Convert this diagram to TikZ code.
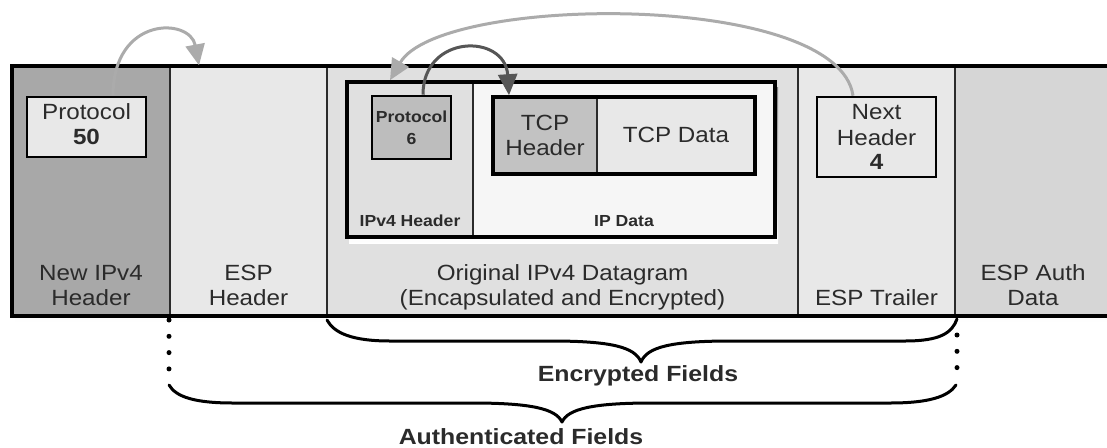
\documentclass[tikz,border=0pt]{standalone}
\usepackage{fontspec}
\setmainfont{Liberation Sans}[FakeStretch=1.10]
\newfontfamily\widefont{Liberation Sans}[FakeStretch=1.13]
\usetikzlibrary{arrows.meta}
\definecolor{ink}{HTML}{2B2B2B}
\definecolor{hdrdark}{HTML}{A8A8A8}
\definecolor{fieldlight}{HTML}{E8E8E8}
\definecolor{fieldmid}{HTML}{E0E0E0}
\definecolor{authgray}{HTML}{D6D6D6}
\definecolor{boxgray}{HTML}{BDBDBD}
\definecolor{tcpgray}{HTML}{C2C2C2}
\definecolor{paper}{HTML}{F6F6F6}
\definecolor{shade}{HTML}{C9C9C9}
\definecolor{lightptr}{HTML}{ABABAB}
\definecolor{darkptr}{HTML}{565656}
\begin{document}
\begin{tikzpicture}[x=1pt,y=-1pt,
  field/.style={rectangle, inner sep=0pt, draw=ink, line width=1.3pt},
  frame/.style={rectangle, inner sep=0pt, draw=black, line width=3.2pt},
  valbox/.style={rectangle, inner sep=0pt, draw=black, line width=2.6pt},
  lbl/.style={anchor=base, inner sep=0pt, text=ink, font=\fontsize{22}{25}\selectfont},
  lblb/.style={lbl, font=\fontsize{22}{25}\selectfont\bfseries},
  small/.style={anchor=base, inner sep=0pt, text=ink, font=\fontsize{16}{19}\selectfont\bfseries},
  big/.style={anchor=base, inner sep=0pt, text=ink, font=\widefont\fontsize{22}{25}\selectfont\bfseries},
  pointer/.style={line width=3pt, -{Triangle[length=21pt,width=19pt]}},
  bracepath/.style={line width=3pt, line cap=round, line join=round},
  dots/.style={line width=5pt, line cap=round, dash pattern=on 0pt off 16.3pt},
]
\useasboundingbox (0,0) rectangle (1107,447);

% drop shadow of the packet bar
\fill[shade] (15,71) rectangle (1115,322);

% the five fields of the ESP tunnel-mode packet
\node[field, fill=hdrdark,    minimum width=158pt, minimum height=250pt] (newip) at (91,191) {};
\node[field, fill=fieldlight, minimum width=157pt, minimum height=250pt] (esph)  at (248.5,191) {};
\node[field, fill=fieldmid,   minimum width=471pt, minimum height=250pt] (orig)  at (562.5,191) {};
\node[field, fill=fieldlight, minimum width=157pt, minimum height=250pt] (trail) at (876.5,191) {};
\node[field, fill=authgray,   minimum width=157pt, minimum height=250pt] (auth)  at (1033.5,191) {};
\node[frame, minimum width=1100pt, minimum height=250pt] (bar) at (562,191) {};

% encapsulated IPv4 datagram
\fill[shade] (349,87) rectangle (778,243);
\node[field, fill=fieldmid, minimum width=126pt, minimum height=155pt] (iphdr)  at (410,159.5) {};
\node[field, fill=paper,    minimum width=302pt, minimum height=155pt] (ipdata) at (624,159.5) {};
\node[frame, line width=3.6pt, minimum width=428pt, minimum height=155pt] (dgram) at (561,159.5) {};

% TCP segment inside the IP data
\node[field, fill=tcpgray,   minimum width=104pt, minimum height=77pt] (tcphdr)  at (545,135.5) {};
\node[field, fill=fieldlight,minimum width=158pt, minimum height=77pt] (tcpdata) at (676,135.5) {};
\node[frame, line width=3.6pt, minimum width=262pt, minimum height=77pt] (tcp) at (624,135.5) {};

% protocol / next-header value boxes
\node[valbox, fill=fieldlight, minimum width=119pt, minimum height=60pt] (p50) at (86.5,127) {};
\node[valbox, fill=boxgray,    minimum width=79pt,  minimum height=63pt] (p6)  at (411.5,127.5) {};
\node[valbox, fill=fieldlight, minimum width=119pt, minimum height=80pt] (nh)  at (876.5,137) {};

% texts in the value boxes
\node[lbl]  (p50a) at (86.5,119.3) {Protocol};
\node[lblb] (p50b) at (86.5,144.3) {50};
\node[small] (p6a) at (411.5,122.7) {Protocol};
\node[small] (p6b) at (411.5,144) {6};
\node[lbl]  (nha) at (876.5,119.3) {Next};
\node[lbl]  (nhb) at (876.5,145) {Header};
\node[lblb] (nhc) at (876.5,169.3) {4};

% TCP segment texts
\node[lbl] (tcpa) at (545,130) {TCP};
\node[lbl] (tcpb) at (545,155) {Header};
\node[lbl] (tcpc) at (676,142.7) {TCP Data};
\node[small] (iphdrl)  at (410,226.7) {IPv4 Header};
\node[small] (ipdatal) at (624,226.7) {IP Data};

% field names
\node[lbl] (l1a) at (91,280) {New IPv4};
\node[lbl] (l1b) at (91,305) {Header};
\node[lbl] (l2a) at (248.5,280) {ESP};
\node[lbl] (l2b) at (248.5,305) {Header};
\node[lbl] (l3a) at (562.5,280) {Original IPv4 Datagram};
\node[lbl] (l3b) at (562.5,305) {(Encapsulated and Encrypted)};
\node[lbl] (l4a) at (876.5,305) {ESP Trailer};
\node[lbl] (l5a) at (1033,280) {ESP Auth};
\node[lbl] (l5b) at (1033,305) {Data};

% next-header pointers
\draw[pointer, lightptr] ([xshift=26.5pt]p50.north) .. controls +(0,-80) and +(-9,-48) .. ([xshift=-49.5pt]esph.north);
\draw[pointer, lightptr] ([xshift=-23.5pt]nh.north) .. controls +(-15,-105) and +(50,-86) .. ([xshift=-171pt]dgram.north);
\draw[pointer, darkptr] ([xshift=11.5pt]p6.north) .. controls +(0,-61) and +(-4,-62) .. ([xshift=-115pt]tcp.north);

% braces marking the protected ranges
\coordinate (encL) at (327,320);
\coordinate (encR) at (957,319);
\coordinate (encTip) at (641,362);
\coordinate (authL) at (169,385);
\coordinate (authR) at (956,385);
\coordinate (authTip) at (562,422);

\draw[bracepath] (encL) .. controls +(7,13) and +(-38,0) .. (390,341) -- (551,341)
  .. controls +(60,0) and +(-6,-15) .. (encTip)
  .. controls +(6,-15) and +(-60,0) .. (731,341) -- (905,341)
  .. controls +(35,0) and +(-5,14) .. (encR);
\draw[bracepath] (authL) .. controls +(7,12) and +(-38,0) .. (233,403) -- (472,403)
  .. controls +(60,0) and +(-6,-13) .. (authTip)
  .. controls +(6,-13) and +(-60,0) .. (652,403) -- (890,403)
  .. controls +(38,0) and +(-8,12) .. (authR);

% dotted extensions of the outer field borders
\draw[dots] (169,320) -- (169,372);
\draw[dots] (957,335) -- (957,372);

\node[big] (encl)  at (638,381.7) {Encrypted Fields};
\node[big] (authl) at (521,444.5) {Authenticated Fields};
\end{tikzpicture}
\end{document}
